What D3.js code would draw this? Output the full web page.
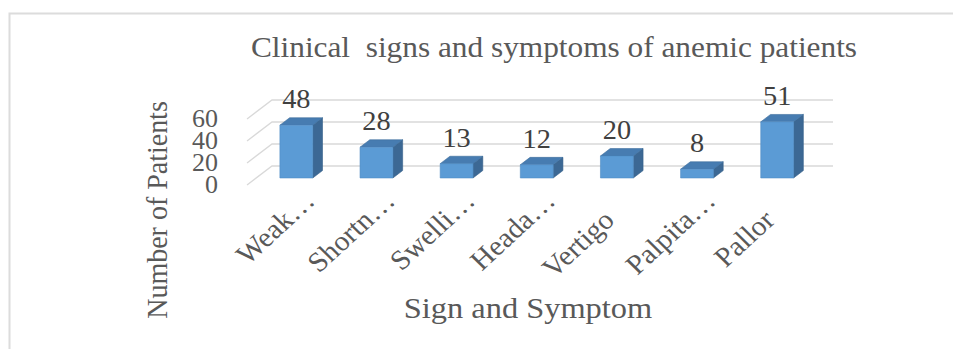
<!DOCTYPE html>
<html><head><meta charset="utf-8">
<script src="https://cdn.jsdelivr.net/npm/d3@7/dist/d3.min.js"></script>
<style>html,body{margin:0;padding:0;background:#fff}svg{display:block}</style>
</head><body>
<script>
const categories = ["Weakness","Shortness of breath","Swelling","Headache","Vertigo","Palpitation","Pallor"];
const catLabels = ["Weak","Shortn","Swelli","Heada","Vertigo","Palpita","Pallor"];
const truncated = [true,true,true,true,false,true,false];
const values = [48,28,13,12,20,8,51];
const yTicks = [0,20,40,60];
const title = "Clinical  signs and symptoms of anemic patients";
const yTitle = "Number of Patients";
const xTitle = "Sign and Symptom";

const W = 953, H = 349;
const svg = d3.select("body").append("svg").attr("width", W).attr("height", H);
const FONT = "'Liberation Serif','Times New Roman',serif";

// outer frame
svg.append("rect").attr("x", 9.5).attr("y", 13.5).attr("width", 960).attr("height", 360)
  .attr("fill", "none").attr("stroke", "#dcdcdc").attr("stroke-width", 2);

const x0 = 247, x1 = 808, base = 185;
const DX = 25, DY = -19;
const dFront = 0.37, dBack = 0.76;
const x = d3.scaleBand().domain(categories).range([x0, x1]).paddingInner(0.59).paddingOuter(0.295);
const y = d3.scaleLinear().domain([0, 60]).range([0, 66]);
const P = (px, py, d) => [px + DX * d, py + DY * d];

// gridlines: side diagonal + back wall
const grid = svg.append("g").attr("stroke", "#d9d9d9").attr("stroke-width", 1.3).attr("fill", "none");
yTicks.forEach(t => {
  const yy = base - y(t);
  const a = P(x0, yy, 0), b = P(x0, yy, 1), c = P(x1, yy, 1);
  grid.append("path").attr("d", d3.line()([a, b, c]));
});

// tick labels
svg.append("g").selectAll("text").data(yTicks).join("text")
  .attr("transform", d => `translate(218,${base - y(d) + 8}) scale(1.04,1)`)
  .attr("text-anchor", "end").attr("font-family", FONT).attr("font-size", 25)
  .attr("fill", "#595959").text(d => d);

// bars
const bars = svg.append("g");
categories.forEach((c, i) => {
  const h = y(values[i]);
  const xl = x(c), xr = x(c) + x.bandwidth();
  const yb = base, yt = base - h;
  const fbl = P(xl, yb, dFront), fbr = P(xr, yb, dFront), ftl = P(xl, yt, dFront), ftr = P(xr, yt, dFront);
  const bbr = P(xr, yb, dBack), btl = P(xl, yt, dBack), btr = P(xr, yt, dBack);
  const line = d3.line();
  bars.append("path").attr("d", line([fbr, bbr, btr, ftr]) + "Z").attr("fill", "#3c6894").attr("stroke", "#34608a").attr("stroke-width", 0.6);
  bars.append("path").attr("d", line([ftl, ftr, btr, btl]) + "Z").attr("fill", "#477cb1").attr("stroke", "#3d6d9c").attr("stroke-width", 0.6);
  bars.append("path").attr("d", line([fbl, fbr, ftr, ftl]) + "Z").attr("fill", "#5b9bd5").attr("stroke", "#4f8bc4").attr("stroke-width", 0.6);
  // value label
  const cx = (fbl[0] + fbr[0]) / 2;
  svg.append("text").attr("transform", `translate(${cx},${ftl[1] - 17}) scale(1.05,1)`)
    .attr("text-anchor", "middle").attr("font-family", FONT).attr("font-size", 27)
    .attr("fill", "#404040").text(values[i]);
  // category label
  const lx = cx - 1, ly = 222;
  const tf = `translate(${lx},${ly}) scale(1.05,1) rotate(-44)`;
  svg.append("text").attr("transform", tf)
    .attr("text-anchor", "end").attr("font-family", FONT).attr("font-size", 28)
    .attr("fill", "#595959").text(catLabels[i]);
  if (truncated[i]) {
    svg.append("text").attr("transform", tf)
      .attr("text-anchor", "start").attr("font-family", FONT).attr("font-size", 28)
      .attr("fill", "#595959").text("…");
  }
});

// titles
svg.append("text").attr("transform", `translate(554,57) scale(1.08,1)`)
  .attr("text-anchor", "middle").attr("font-family", FONT).attr("font-size", 29)
  .attr("fill", "#595959").style("white-space", "pre").text(title);
svg.append("text").attr("transform", `translate(167,210) scale(1.05,1) rotate(-90)`)
  .attr("text-anchor", "middle").attr("font-family", FONT).attr("font-size", 28)
  .attr("fill", "#595959").text(yTitle);
svg.append("text").attr("transform", `translate(528,318) scale(1.08,1)`)
  .attr("text-anchor", "middle").attr("font-family", FONT).attr("font-size", 30)
  .attr("fill", "#595959").text(xTitle);
</script>
</body></html>
